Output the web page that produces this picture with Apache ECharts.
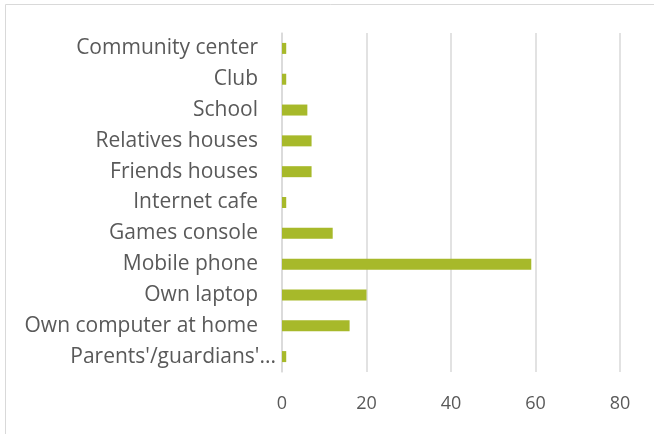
<!DOCTYPE html>
<html><head><meta charset="utf-8">
<script src="https://cdn.jsdelivr.net/npm/echarts@6/dist/echarts.min.js"></script>
<style>html,body{margin:0;padding:0;background:#fff}#c{width:654px;height:434px}</style>
</head><body><div id="c"></div>
<script>
const categories = ["Parents'/guardians'...", "Own computer at home", "Own laptop", "Mobile phone", "Games console", "Internet cafe", "Friends houses", "Relatives houses", "School", "Club", "Community center"];
const values = [1, 16, 20, 59, 12, 1, 7, 7, 6, 1, 1];
const xTicks = [0, 20, 40, 60, 80];

const chart = echarts.init(document.getElementById('c'), null, {renderer: 'canvas'});
const font = "'Open Sans', sans-serif";
chart.setOption({
  animation: false,
  graphic: [
    {type: 'polyline', shape: {points: [[5.5, 440], [5.5, 4.5], [660, 4.5]]}, style: {stroke: '#d9d9d9', fill: null, lineWidth: 1}}
  ],
  grid: {left: 282, right: 34, top: 33, bottom: 62, containLabel: false},
  xAxis: {
    type: 'value', min: xTicks[0], max: xTicks[xTicks.length - 1], interval: 20,
    axisLine: {show: false}, axisTick: {show: false},
    splitLine: {show: true, lineStyle: {color: '#d9d9d9', width: 1.5}},
    axisLabel: {color: '#595959', fontSize: 18, fontFamily: font, margin: 23}
  },
  yAxis: {
    type: 'category', data: categories,
    axisLine: {show: true, lineStyle: {color: '#d9d9d9', width: 1.5}},
    axisTick: {show: false},
    axisLabel: {
      color: '#595959', fontSize: 21, fontFamily: font, margin: 6,
      formatter: v => v.indexOf('...') >= 0 ? '{t|' + v + '}' : '{n|' + v + '}',
      rich: {
        n: {color: '#595959', fontSize: 21, fontFamily: font, padding: [0, 18, 0, 0]},
        t: {color: '#595959', fontSize: 21, fontFamily: font}
      }
    }
  },
  series: [{
    type: 'bar', data: values, barWidth: 11,
    itemStyle: {color: '#a7b92a'}
  }]
});
</script></body></html>
